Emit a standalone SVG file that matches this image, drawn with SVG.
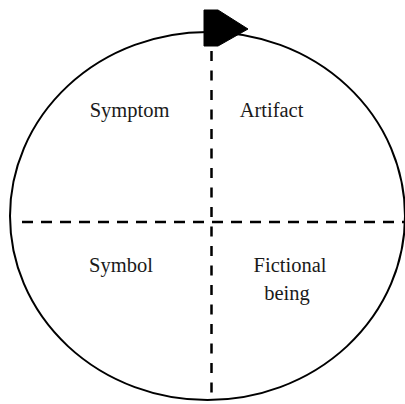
<svg xmlns="http://www.w3.org/2000/svg" width="405" height="404" viewBox="0 0 405 404">
<style>
.lbl{font-family:"Liberation Serif","Times New Roman",serif;font-size:20.5px;fill:#1a1a1a;text-anchor:middle}
.dash{stroke:#000;stroke-width:2.5;fill:none}
</style>
<rect width="405" height="404" fill="#fff"/>
<g id="cycle">
<ellipse cx="207.5" cy="216" rx="197.5" ry="184" fill="none" stroke="#000" stroke-width="2"/>
<path d="M204,10 L218,10 L248,29 L218,46 L204,46 Z" fill="#000" stroke="#000" stroke-width="1" stroke-linejoin="round"/>
</g>
<g id="connectors">
<line class="dash" x1="22" y1="222" x2="405" y2="222" stroke-dasharray="11 8"/>
<line class="dash" x1="211.5" y1="51" x2="211.5" y2="401" stroke-dasharray="10 9.5"/>
</g>
<g id="symptom"><text class="lbl" x="129.5" y="117">Symptom</text></g>
<g id="artifact"><text class="lbl" x="271.5" y="117">Artifact</text></g>
<g id="symbol"><text class="lbl" x="121" y="272">Symbol</text></g>
<g id="fictional-being"><text class="lbl" x="290" y="272">Fictional</text><text class="lbl" x="287" y="300">being</text></g>
</svg>
